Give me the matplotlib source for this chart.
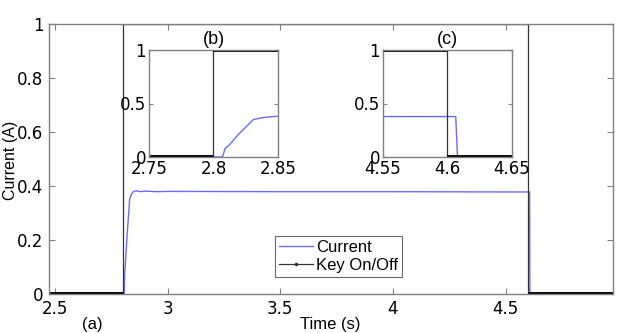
import matplotlib.pyplot as plt
from matplotlib.lines import Line2D

# measured current (A) vs time (s)
cur_t = [2.47, 2.807, 2.809, 2.812, 2.820, 2.831, 2.839, 2.849, 2.86, 2.88, 2.90,
         2.95, 3.0, 3.5, 4.0, 4.5, 4.6066, 4.608, 4.98]
cur_v = [0.0, 0.0, 0.08, 0.11, 0.22, 0.35, 0.37, 0.38, 0.382, 0.379, 0.381,
         0.379, 0.380, 0.379, 0.379, 0.378, 0.378, 0.0, 0.0]

# key on/off signal
key_t = [2.47, 2.8, 2.8, 4.6, 4.6, 4.98]
key_v = [0, 0, 1, 1, 0, 0]

main_xticks = [2.5, 3, 3.5, 4, 4.5]
main_yticks = [0, 0.2, 0.4, 0.6, 0.8, 1]
inset_b_xticks = [2.75, 2.8, 2.85]
inset_c_xticks = [4.55, 4.6, 4.65]
inset_yticks = [0, 0.5, 1]

frame = '#808080'
blue = '#6b6bff'
plt.rcParams['font.family'] = ['DejaVu Sans']
plt.rcParams['font.size'] = 12

fig = plt.figure(figsize=(6.33, 3.33), dpi=100)


def draw(ax, thick_levels):
    ax.plot(cur_t, cur_v, color=blue, lw=1.0)
    ax.plot(key_t, key_v, color='#333333', lw=0.9)
    for i in range(len(key_t) - 1):
        if key_v[i] == key_v[i + 1] and key_v[i] in thick_levels:
            ax.plot(key_t[i:i + 2], key_v[i:i + 2], color='black', lw=2.8,
                    solid_capstyle='butt')
    for s in ax.spines.values():
        s.set_color(frame)
        s.set_linewidth(1.0)
    ax.tick_params(direction='in', top=True, right=True, color=frame,
                   length=4, width=0.8, labelsize=12, pad=4)


ax = fig.add_axes([49 / 633, 39 / 333, 564 / 633, 270 / 333])
draw(ax, [0])
ax.set_xlim(2.473, 4.977)
ax.set_ylim(0, 1)
ax.set_xticks(main_xticks)
ax.set_xticklabels(['2.5', '3', '3.5', '4', '4.5'])
ax.set_yticks(main_yticks)
ax.set_yticklabels(['0', '0.2', '0.4', '0.6', '0.8', '1'])
fig.text(11 / 633, 1 - 160 / 333, 'Current (A)', family='Liberation Sans',
         fontsize=11.5, ha='center', va='center', rotation=90)
fig.text(330 / 633, 1 - 324 / 333, 'Time (s)', family='Liberation Sans',
         fontsize=12, ha='center', va='center')
fig.text(92 / 633, 1 - 324 / 333, '(a)', family='Liberation Sans',
         fontsize=12, ha='center', va='center')

handles = [Line2D([], [], color=blue, lw=1.0),
           Line2D([], [], color='#333333', lw=0.9, marker='.', markersize=3)]
leg = ax.legend(handles, ['Current', 'Key On/Off'], loc='upper left',
                bbox_to_anchor=(275 / 633, 1 - 236 / 333),
                bbox_transform=fig.transFigure, fancybox=False,
                handlelength=2.0, handletextpad=0.2, borderpad=0.25,
                labelspacing=0.15, borderaxespad=0,
                prop={'family': 'Liberation Sans', 'size': 12})
leg.get_frame().set_edgecolor('#444444')
leg.get_frame().set_linewidth(0.8)

for left, xlim, xt, xtl, lab in [
        (149 / 633, (2.75, 2.85), inset_b_xticks, ['2.75', '2.8', '2.85'], '(b)'),
        (382.7 / 633, (4.55, 4.65), inset_c_xticks, ['4.55', '4.6', '4.65'], '(c)')]:
    ins = fig.add_axes([left, 176 / 333, 129 / 633, 107 / 333])
    draw(ins, [0, 1])
    ins.set_xlim(*xlim)
    ins.set_ylim(0, 1)
    ins.set_xticks(xt)
    ins.set_xticklabels(xtl)
    ins.set_yticks(inset_yticks)
    ins.set_yticklabels(['0', '0.5', '1'])
    ins.tick_params(length=3, pad=2)
    ins.set_title(lab, family='Liberation Sans', fontsize=13, pad=4)

fig.savefig('out.png', dpi=100)
